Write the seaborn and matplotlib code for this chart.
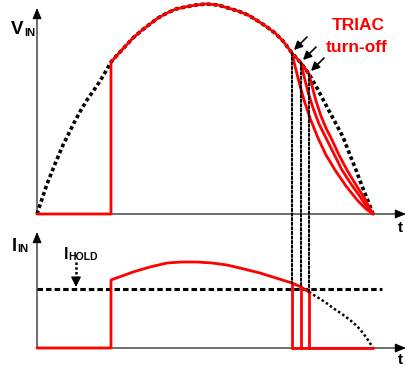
import matplotlib
matplotlib.use("Agg")
import matplotlib.pyplot as plt
from matplotlib.patches import ConnectionPatch
import seaborn as sns

sns.set_theme(style="white")
plt.rcParams["font.family"] = ["Liberation Sans", "DejaVu Sans"]

# ---- waveform data (time in half-mains-periods) ----
# rectified mains voltage V_IN (normalised to peak)
t_v = [0.0, 0.0149, 0.0298, 0.0536, 0.0774, 0.0982, 0.1131, 0.1310, 0.1488,
       0.1696, 0.1875, 0.2054, 0.2202, 0.2470, 0.2857, 0.3095, 0.3363, 0.3601,
       0.3869, 0.4137, 0.4405, 0.4732, 0.5030, 0.5387, 0.5685, 0.5982, 0.6280,
       0.6577, 0.6845, 0.7083, 0.7321, 0.7589, 0.7857, 0.8095, 0.8333, 0.8631,
       0.8869, 0.9107, 0.9315, 0.9494, 0.9673, 0.9851, 1.0]
v_in = [0.0, 0.0714, 0.1429, 0.2381, 0.3286, 0.3952, 0.4429, 0.4952, 0.5429,
        0.5905, 0.6333, 0.6810, 0.7238, 0.7714, 0.8381, 0.8714, 0.9048, 0.9333,
        0.9571, 0.9762, 0.9857, 0.9952, 1.0, 0.9952, 0.9810, 0.9667, 0.9476,
        0.9190, 0.8905, 0.8619, 0.8238, 0.7667, 0.7190, 0.6667, 0.6000, 0.5095,
        0.4381, 0.3667, 0.2810, 0.2095, 0.1333, 0.0619, 0.0]

t_fire = 0.2202                        # TRIAC firing instant
t_off = [0.7589, 0.7857, 0.8095]       # possible TRIAC turn-off instants
v_off = [0.7667, 0.7190, 0.6667]       # V_IN at those instants

# voltage decay after turn-off (one curve per turn-off instant)
decay_t = [[0.7589, 0.7679, 0.7798, 0.7946, 0.8125, 0.8363, 0.8601, 0.8869,
            0.9196, 0.9554, 0.9792, 1.0],
           [0.7857, 0.7946, 0.8065, 0.8214, 0.8393, 0.8631, 0.8869, 0.9077,
            0.9345, 0.9643, 0.9821, 1.0],
           [0.8095, 0.8185, 0.8304, 0.8452, 0.8601, 0.8780, 0.8988, 0.9226,
            0.9494, 0.9762, 0.9881, 1.0]]
decay_v = [[0.7667, 0.7048, 0.6286, 0.5429, 0.4571, 0.3619, 0.2810, 0.2095,
            0.1333, 0.0619, 0.0238, 0.0],
           [0.7190, 0.6571, 0.5810, 0.5048, 0.4286, 0.3524, 0.2762, 0.2095,
            0.1429, 0.0762, 0.0333, 0.0],
           [0.6667, 0.6095, 0.5381, 0.4667, 0.4095, 0.3524, 0.2810, 0.2095,
            0.1381, 0.0714, 0.0333, 0.0]]

# input current I_IN (normalised to peak)
t_i = [0.2202, 0.2530, 0.2857, 0.3363, 0.3869, 0.4315, 0.4762, 0.5208,
       0.5655, 0.6161, 0.6637, 0.7113, 0.7589, 0.7857, 0.8095, 0.8333,
       0.8571, 0.8810, 0.9077, 0.9315, 0.9524, 0.9702, 0.9851, 1.0]
i_in = [0.7907, 0.8372, 0.8837, 0.9419, 0.9884, 1.0, 1.0, 0.9884,
        0.9651, 0.9186, 0.8721, 0.8140, 0.7558, 0.7093, 0.6512, 0.5930,
        0.5349, 0.4651, 0.3953, 0.3256, 0.2558, 0.1744, 0.0930, 0.0]
i_off = [0.7558, 0.7093, 0.6512]
i_hold = 0.686

# ---- layout (pixel based) ----
W, H = 406, 367
X0, XS = 37, 336        # time origin and scale in px
VB, VS = 214, 210       # voltage baseline and scale in px
IB, IS = 348, 86        # current baseline and scale in px

fig = plt.figure(figsize=(W / 100, H / 100), dpi=100)
ax1 = fig.add_axes([0, 1 - 222 / H, 1, 222 / H])
ax2 = fig.add_axes([0, 0, 1, (H - 225) / H])
for ax in (ax1, ax2):
    ax.set_xlim(-X0 / XS, (W - X0) / XS)
    ax.set_axis_off()
ax1.set_ylim(-(222 - VB) / VS, VB / VS)
ax2.set_ylim(-(H - IB) / IS, (IB - 225) / IS)

RED = "#ff0000"
t_end = (W - X0) / XS
red_kw = dict(sort=False, estimator=None, color=RED, linewidth=2.0,
              legend=False, zorder=4, solid_joinstyle="round")

def axis_arrow(ax, xy, xytext):
    ax.annotate("", xy=xy, xytext=xytext,
                arrowprops=dict(arrowstyle="-|>,head_length=0.6,head_width=0.25",
                                color="black", lw=0.8, shrinkA=0, shrinkB=0,
                                mutation_scale=11),
                annotation_clip=False)

# axes with arrows
axis_arrow(ax1, (0, (VB - 8) / VS), (0, 0))
axis_arrow(ax1, (t_end, 0), (0, 0))
axis_arrow(ax2, (0, (IB - 232) / IS), (0, 0))
axis_arrow(ax2, (t_end, 0), (0, 0))

# ---- top panel: V_IN ----
sns.lineplot(x=t_v, y=v_in, sort=False, estimator=None, ax=ax1, color="black",
             linewidth=2.6, linestyle=(0, (1.0, 0.8)), legend=False, zorder=2)

trunk_t = [0.0, t_fire] + [t for t in t_v if t_fire <= t <= t_off[-1]]
trunk_v = [0.0, 0.0] + [v for t, v in zip(t_v, v_in) if t_fire <= t <= t_off[-1]]
sns.lineplot(x=trunk_t, y=trunk_v, ax=ax1, **red_kw)
for dt, dv in zip(decay_t, decay_v):
    sns.lineplot(x=dt, y=dv, ax=ax1, **red_kw)

# turn-off arrows
for to, vo in zip(t_off, v_off):
    tip = (to + 2 / XS, vo + 3 / VS)
    tail = (to + 15 / XS, vo + 16 / VS)
    ax1.annotate("", xy=tip, xytext=tail,
                 arrowprops=dict(arrowstyle="-|>,head_length=0.5,head_width=0.25",
                                 color="black", lw=1.2, shrinkA=0, shrinkB=0,
                                 mutation_scale=10))

# ---- bottom panel: I_IN ----
sns.lineplot(x=[0, 1.027], y=[i_hold, i_hold], ax=ax2, color="black",
             linewidth=2.2, linestyle=(0, (1.8, 1.0)), legend=False, zorder=2)
tail_t = [t for t in t_i if t >= t_off[-1]]
tail_i = [i for t, i in zip(t_i, i_in) if t >= t_off[-1]]
sns.lineplot(x=tail_t, y=tail_i, sort=False, estimator=None, ax=ax2,
             color="black", linewidth=1.8, linestyle=(0, (1.0, 1.0)),
             legend=False, zorder=2)

on_t = [0.0, t_fire] + [t for t in t_i if t <= t_off[-1]]
on_i = [0.0, 0.0] + [i for t, i in zip(t_i, i_in) if t <= t_off[-1]]
sns.lineplot(x=on_t, y=on_i, ax=ax2, **red_kw)
for to, io in zip(t_off, i_off):
    sns.lineplot(x=[to, to], y=[io, 0.0], ax=ax2, **red_kw)
sns.lineplot(x=[t_off[0], 1.0], y=[0.0, 0.0], ax=ax2, **red_kw)

# I_HOLD pointer
t_hold_lbl = (76 - X0) / XS
ax2.plot([t_hold_lbl, t_hold_lbl], [(IB - 262) / IS, (IB - 278) / IS],
         color="black", lw=1.8, linestyle=(0, (1.0, 0.9)))
ax2.annotate("", xy=(t_hold_lbl, (IB - 287) / IS),
             xytext=(t_hold_lbl, (IB - 278) / IS),
             arrowprops=dict(arrowstyle="-|>,head_length=0.6,head_width=0.3",
                             color="black", lw=1.0, shrinkA=0, shrinkB=0,
                             mutation_scale=10))

# dotted verticals linking turn-off in V_IN to I_IN
for to, vo, io in zip(t_off, v_off, i_off):
    con = ConnectionPatch(xyA=(to, vo), coordsA=ax1.transData,
                          xyB=(to, io), coordsB=ax2.transData,
                          color="black", lw=1.5, linestyle=(0, (1.1, 1.1)),
                          zorder=3)
    fig.add_artist(con)

# ---- labels ----
def px(x, y):
    return x / W, 1 - y / H

bold = dict(fontweight="bold", color="black")
fig.text(*px(11, 34), "V", fontsize=13.5, ha="left", va="baseline", **bold)
fig.text(*px(24.5, 36), "IN", fontsize=8, ha="left", va="baseline", **bold)
fig.text(*px(12, 251), "I", fontsize=13, ha="left", va="baseline", **bold)
fig.text(*px(17, 252), "IN", fontsize=8, ha="left", va="baseline", **bold)
fig.text(*px(64, 259), "I", fontsize=11.5, ha="left", va="baseline", **bold)
fig.text(*px(68, 260), "HOLD", fontsize=7.5, ha="left", va="baseline", **bold)
fig.text(*px(398, 232), "t", fontsize=11, ha="left", va="baseline", **bold)
fig.text(*px(398, 364), "t", fontsize=11, ha="left", va="baseline", **bold)
fig.text(*px(358, 30), "TRIAC", fontsize=12.5, ha="center", va="baseline",
         fontweight="bold", color=RED)
fig.text(*px(357, 52), "turn-off", fontsize=12.5, ha="center", va="baseline",
         fontweight="bold", color=RED)

fig.savefig("out.png", dpi=100)
